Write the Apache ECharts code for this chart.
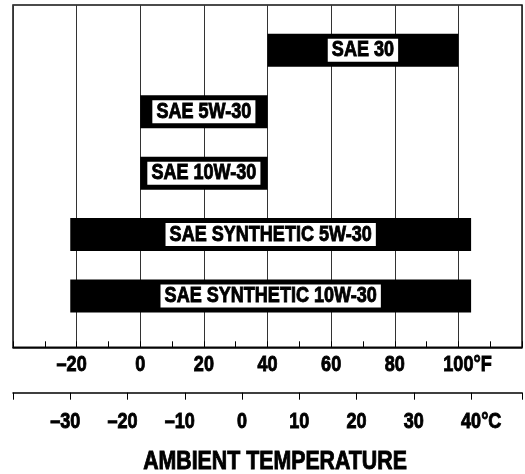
<!DOCTYPE html>
<html>
<head>
<meta charset="utf-8">
<script src="https://cdn.jsdelivr.net/npm/echarts@6/dist/echarts.min.js"></script>
<style>html,body{margin:0;padding:0;background:#fff}#c{width:525px;height:474px}</style>
</head>
<body>
<div id="c"></div>
<script>
const grades = ['SAE 30', 'SAE 5W-30', 'SAE 10W-30', 'SAE SYNTHETIC 5W-30', 'SAE SYNTHETIC 10W-30'];
const lowF = [40, 0, 0, -22, -22];
const highF = [100, 40, 40, 104, 104];
const rows = [1, 2, 3, 4, 5];
const fLabels = [-20, 0, 20, 40, 60, 80, 100];
const cLabels = [-30, -20, -10, 0, 10, 20, 30, 40];
const axisTitle = 'AMBIENT TEMPERATURE';

const FONT = '"Liberation Sans", Arial, sans-serif';
const SQUEEZE = 0.82; // narrow (condensed) look
const HEAVY = 0.9;    // extra stroke for a heavier weight
const data = grades.map((g, i) => [lowF[i], highF[i], rows[i], g]);

const mctx = document.createElement('canvas').getContext('2d');
mctx.font = 'bold 22px ' + FONT;
const dashW = mctx.measureText('\u2013').width;
const fUnitW = mctx.measureText('\u00b0F').width;
const cUnitW = mctx.measureText('\u00b0C').width;

function fmt(v, list, unit, key) {
  if (list.indexOf(v) < 0) return '';
  const t = (v < 0 ? '\u2013' + Math.abs(v) : String(v));
  if (v < 0) return '{neg|' + t + '}';
  if (v === list[list.length - 1]) return '{' + key + '|' + t + unit + '}';
  return '{n|' + t + '}';
}
const base = {fontFamily: FONT, fontWeight: 'bold', fontSize: 22, color: '#000', textBorderColor: '#000', textBorderWidth: HEAVY};
const rich = {
  n: Object.assign({}, base),
  neg: Object.assign({padding: [0, dashW, 0, 0]}, base),
  lastF: Object.assign({padding: [0, 0, 0, fUnitW]}, base),
  lastC: Object.assign({padding: [0, 0, 0, cUnitW]}, base)
};

const chart = echarts.init(document.getElementById('c'));
chart.setOption({
  animation: false,
  grid: {left: 13, right: 2.5, top: 5, bottom: 126.7, show: true, borderColor: '#111', borderWidth: 1.5, backgroundColor: 'transparent'},
  xAxis: [{
    type: 'value', min: -40, max: 120, interval: 20, position: 'bottom',
    axisLine: {show: true, onZero: false, lineStyle: {color: '#000', width: 1.5}},
    axisTick: {show: true, inside: true, length: 6, lineStyle: {color: '#000', width: 1}},
    minorTick: {show: true, splitNumber: 2, length: 6, lineStyle: {color: '#000', width: 1}},
    splitLine: {show: true, lineStyle: {color: '#333', width: 1}},
    axisLabel: {margin: 7, showMinLabel: true, showMaxLabel: true, hideOverlap: false,
      formatter: v => fmt(v, fLabels, '\u00b0F', 'lastF'), rich: rich}
  }, {
    type: 'value', min: -40, max: 48.8889, interval: 10, position: 'bottom', offset: 45.4,
    axisLine: {show: true, onZero: false, lineStyle: {color: '#000', width: 1.5}},
    axisTick: {show: true, inside: false, length: 7, lineStyle: {color: '#000', width: 1}},
    splitLine: {show: false},
    axisLabel: {margin: 18, showMinLabel: true, showMaxLabel: true, hideOverlap: false,
      formatter: v => fmt(Math.round(v * 1000) / 1000, cLabels, '\u00b0C', 'lastC'), rich: rich}
  }],
  yAxis: {type: 'value', inverse: true, min: 0.2626, max: 5.835, show: false, splitLine: {show: false}},
  series: [{
    type: 'custom',
    xAxisIndex: 0,
    data: data,
    encode: {x: [0, 1], y: 2},
    renderItem: function (params, api) {
      const s = api.coord([api.value(0), api.value(2)]);
      const e = api.coord([api.value(1), api.value(2)]);
      const h = 33;
      return {
        type: 'group',
        children: [
          {type: 'rect', shape: {x: s[0], y: s[1] - h / 2, width: e[0] - s[0], height: h}, style: {fill: '#000'}},
          {type: 'text', x: (s[0] + e[0]) / 2, y: s[1],
            style: {text: grades[params.dataIndex], fill: '#000', stroke: '#000', lineWidth: HEAVY,
              fontFamily: FONT, fontWeight: 'bold', fontSize: 22,
              align: 'center', verticalAlign: 'middle', backgroundColor: '#fff', padding: [1, 5, 0, 5], lineHeight: 22}}
        ]
      };
    }
  }],
  graphic: [{
    type: 'text', x: 275, y: 449,
    style: {text: axisTitle, fill: '#000', stroke: '#000', lineWidth: HEAVY, fontFamily: FONT, fontWeight: 'bold', fontSize: 26,
      align: 'center', verticalAlign: 'top'}
  }]
});

// give all text a condensed (narrow) width, like the original typeface
(function squeeze() {
  const zr = chart.getZr();
  function walk(el) {
    if (el.type === 'text') { el.scaleX = SQUEEZE; el.markRedraw(); }
    if (el.isGroup) el.eachChild(walk);
  }
  zr.storage.getRoots().forEach(walk);
  zr.refreshImmediately();
})();
</script>
</body>
</html>
